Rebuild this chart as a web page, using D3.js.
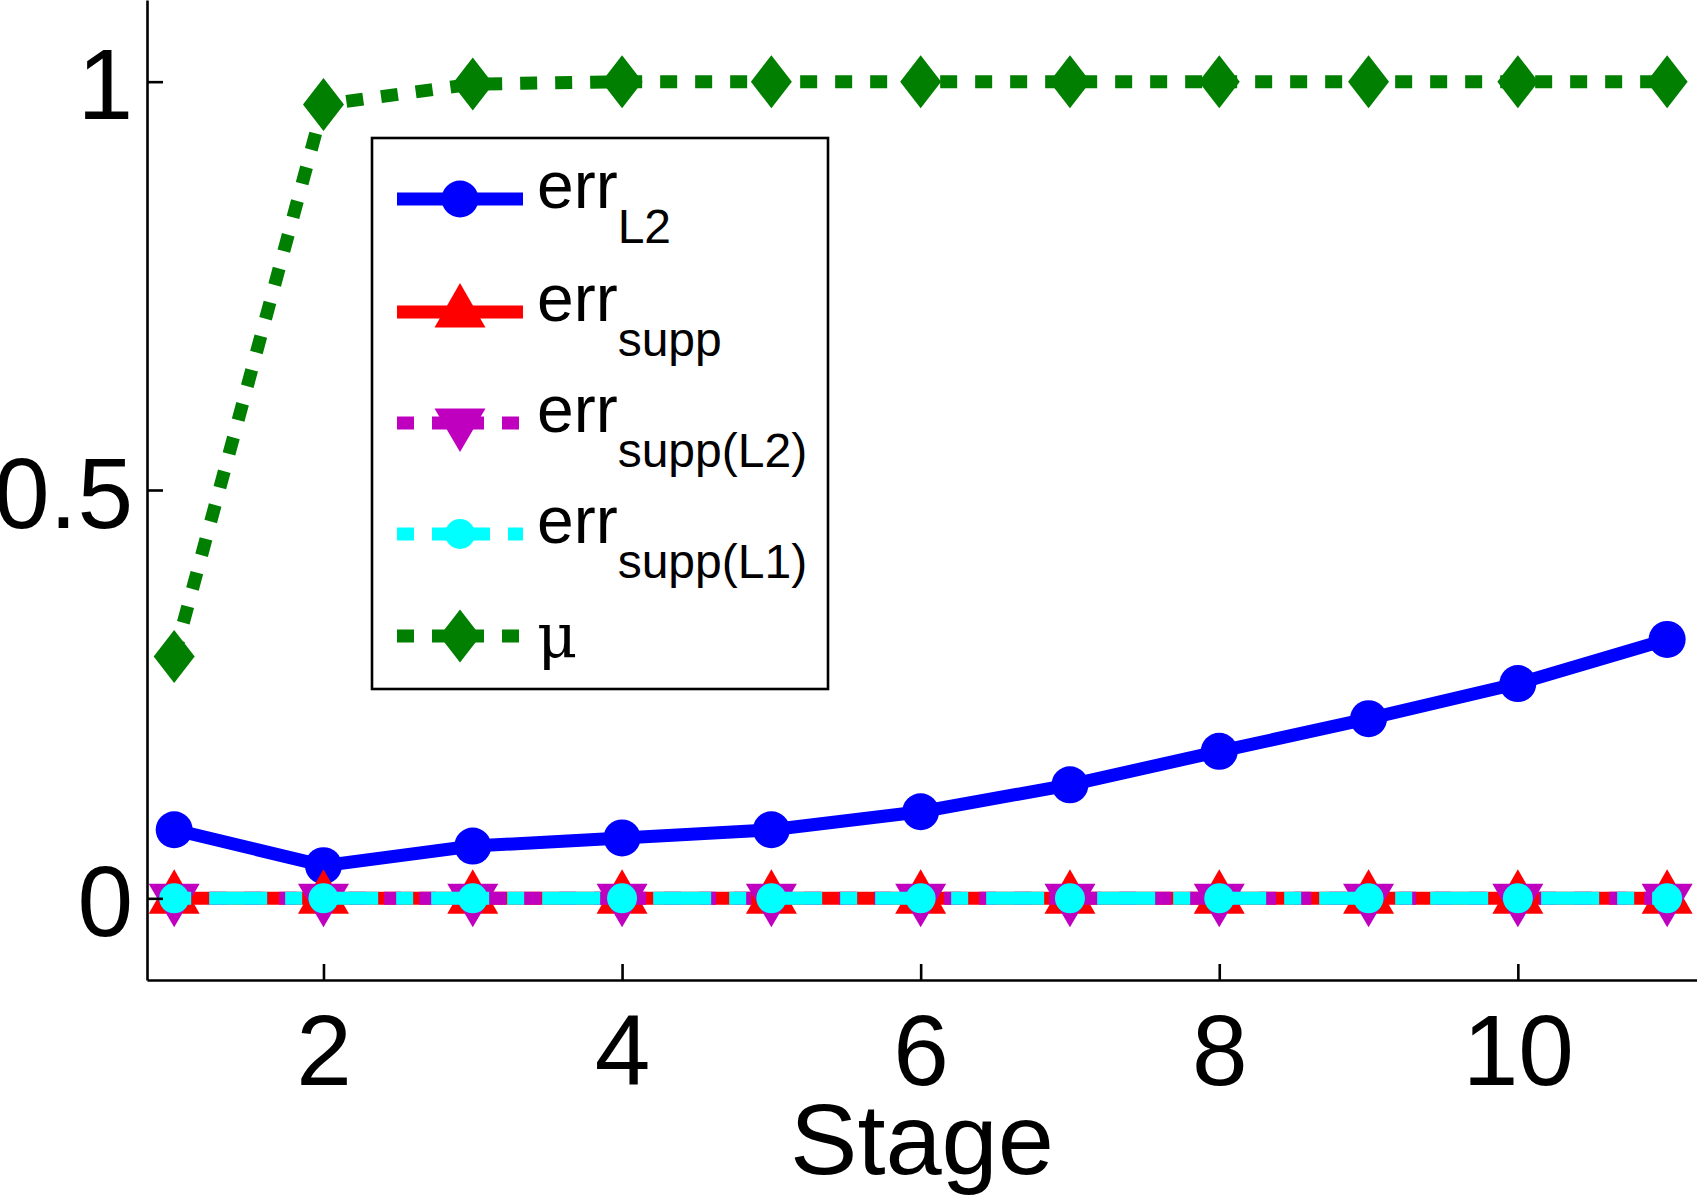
<!DOCTYPE html>
<html>
<head>
<meta charset="utf-8">
<script src="https://cdn.jsdelivr.net/npm/d3@7"></script>
<style>
  body { margin: 0; background: #fff; }
  svg { display: block; }
</style>
</head>
<body>
<div id="chart"></div>
<script>
// data
var stages = [1, 2, 3, 4, 5, 6, 7, 8, 9, 10, 11];
var errL2 = [0.084, 0.040, 0.064, 0.074, 0.084, 0.106, 0.139, 0.180, 0.220, 0.263, 0.317];
var errSupp = [0, 0, 0, 0, 0, 0, 0, 0, 0, 0, 0];
var errSuppL2 = [0, 0, 0, 0, 0, 0, 0, 0, 0, 0, 0];
var errSuppL1 = [0, 0, 0, 0, 0, 0, 0, 0, 0, 0, 0];
var mu = [0.296, 0.972, 0.997, 1.0, 1.0, 1.0, 1.0, 1.0, 1.0, 1.0, 1.0];
var xTicks = [2, 4, 6, 8, 10];
var yTicks = [0, 0.5, 1];
var xLabel = "Stage";

var W = 1697, H = 1200;
var font = "'Liberation Sans', Arial, Helvetica, sans-serif";

// marker shapes
var shapes = {
  circle: function(r) { return "M" + (-r) + ",0A" + r + "," + r + " 0 1,0 " + r + ",0A" + r + "," + r + " 0 1,0 " + (-r) + ",0Z"; },
  up: function() { return "M0,-29L25.5,15.5L-25.5,15.5Z"; },
  down: function() { return "M0,29L25.5,-14.5L-25.5,-14.5Z"; },
  diamond: function() { return "M0,-26.5L20.5,0L0,26.5L-20.5,0Z"; }
};

var series = [
  {name: "L2", values: errL2, color: "#0000ff", dash: null, marker: shapes.circle(18.5)},
  {name: "supp", values: errSupp, color: "#ff0000", dash: null, marker: shapes.up()},
  {name: "supp(L2)", values: errSuppL2, color: "#bf00bf", dash: "17,18", marker: shapes.down()},
  {name: "supp(L1)", values: errSuppL1, color: "#00ffff", dash: "17,18,58,18", marker: shapes.circle(15)},
  {name: "mu", values: mu, color: "#007f00", dash: "17,18", marker: shapes.diamond()}
];

var x = d3.scaleLinear().domain([0.818, 11.2]).range([147, W]);
var y = d3.scaleLinear().domain([-0.1, 1.1]).range([980, 0]);

var svg = d3.select("#chart").append("svg")
    .attr("width", W)
    .attr("height", H);

// series lines and markers
var line = d3.line()
    .x(function(d) { return x(d[0]); })
    .y(function(d) { return y(d[1]); });

series.forEach(function(s) {
  var pts = stages.map(function(st, i) { return [st, s.values[i]]; });
  svg.append("path")
      .datum(pts)
      .attr("d", line)
      .attr("fill", "none")
      .attr("stroke", s.color)
      .attr("stroke-width", 13)
      .attr("stroke-linejoin", "miter")
      .attr("stroke-dasharray", s.dash);
  svg.selectAll(null)
      .data(pts)
    .enter().append("path")
      .attr("d", s.marker)
      .attr("fill", s.color)
      .attr("transform", function(d) { return "translate(" + x(d[0]) + "," + y(d[1]) + ")"; });
});

// axes
var xAxis = svg.append("g")
    .attr("transform", "translate(0," + y.range()[0] + ")")
    .call(d3.axisBottom(x).tickValues(xTicks).tickSize(-16).tickSizeOuter(0).tickPadding(34));
var yAxis = svg.append("g")
    .attr("transform", "translate(" + x.range()[0] + ",0)")
    .call(d3.axisLeft(y).tickValues(yTicks).tickSize(-16).tickSizeOuter(0).tickPadding(14)
      .tickFormat(function(d) { return String(d); }));

[xAxis, yAxis].forEach(function(g) {
  g.attr("font-family", font).attr("font-size", 100);
  g.select(".domain").attr("stroke", "#000").attr("stroke-width", 2.6);
  g.selectAll(".tick line").attr("stroke", "#000").attr("stroke-width", 2.6);
  g.selectAll(".tick text").attr("fill", "#000");
});
yAxis.selectAll(".tick text").attr("dy", "0.37em");

svg.append("text")
    .attr("x", (x.range()[0] + x.range()[1]) / 2)
    .attr("y", 1174)
    .attr("text-anchor", "middle")
    .attr("font-family", font)
    .attr("font-size", 101)
    .text(xLabel);

// legend
var legend = svg.append("g");
legend.append("rect")
    .attr("x", 372).attr("y", 138)
    .attr("width", 456).attr("height", 551)
    .attr("fill", "#fff")
    .attr("stroke", "#000")
    .attr("stroke-width", 2.6);

var rowY = [199, 312, 423, 534, 636];
series.forEach(function(s, i) {
  var ly = rowY[i];
  legend.append("line")
      .attr("x1", 397).attr("x2", 523)
      .attr("y1", ly).attr("y2", ly)
      .attr("stroke", s.color)
      .attr("stroke-width", 13)
      .attr("stroke-dasharray", s.dash);
  legend.append("path")
      .attr("d", s.marker)
      .attr("fill", s.color)
      .attr("transform", "translate(460," + ly + ")");
  if (s.name === "mu") {
    legend.append("text")
        .attr("x", 537).attr("y", 657)
        .attr("font-family", "'DejaVu Serif', 'Liberation Serif', serif")
        .attr("font-size", 62)
        .text("\u03bc");
  } else {
    var t = legend.append("text")
        .attr("x", 537).attr("y", ly + 9)
        .attr("font-family", font)
        .attr("font-size", 66)
        .text("err");
    t.append("tspan")
        .attr("dy", 35)
        .attr("font-size", 48)
        .text(s.name);
  }
});
</script>
</body>
</html>
